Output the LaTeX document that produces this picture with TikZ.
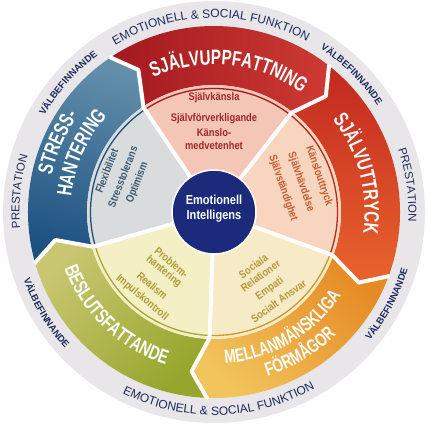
\documentclass[tikz,border=0pt]{standalone}
\usepackage{fontspec}
\usepackage{tikz}
\usetikzlibrary{decorations.text}
\setmainfont{Liberation Sans}
\newfontfamily\bandfont{Liberation Sans}[FakeStretch=0.72]
\newfontfamily\innerfont{Liberation Sans}[FakeStretch=0.85]

\definecolor{ringgrey}{RGB}{232,230,233}
\definecolor{ringblue}{RGB}{31,42,92}
\definecolor{centerblue}{RGB}{27,42,122}
\definecolor{topredA}{RGB}{163,24,32}
\definecolor{topredB}{RGB}{204,58,50}
\definecolor{rightredA}{RGB}{194,40,32}
\definecolor{rightredB}{RGB}{233,100,45}
\definecolor{orangeA}{RGB}{229,138,36}
\definecolor{orangeB}{RGB}{242,196,92}
\definecolor{greenA}{RGB}{150,166,44}
\definecolor{greenB}{RGB}{200,198,112}
\definecolor{blueA}{RGB}{27,80,128}
\definecolor{blueB}{RGB}{98,142,170}
\definecolor{pinkwedge}{RGB}{243,198,182}
\definecolor{peachwedge}{RGB}{247,213,190}
\definecolor{creamwedge}{RGB}{247,235,199}
\definecolor{yellowwedge}{RGB}{245,239,198}
\definecolor{greywedge}{RGB}{217,220,221}
\definecolor{topline}{RGB}{163,28,34}
\definecolor{rightline}{RGB}{185,40,30}
\definecolor{orangeline}{RGB}{205,152,45}
\definecolor{greenline}{RGB}{168,168,56}
\definecolor{blueline}{RGB}{30,80,128}
\definecolor{topinner}{RGB}{160,40,42}
\definecolor{rightinner}{RGB}{196,92,50}
\definecolor{orangeinner}{RGB}{180,154,60}
\definecolor{greeninner}{RGB}{170,158,52}
\definecolor{blueinner}{RGB}{60,90,116}

\newcommand\ringtxt{\fontsize{12}{14}\selectfont}
\newcommand\prestxt{\fontsize{11.5}{13}\selectfont}
\newcommand\welltxt{\bfseries\fontsize{9.5}{11}\selectfont}
\newcommand\bandtxt{\bandfont\bfseries\fontsize{21}{24}\selectfont}
\newcommand\bandmid{\bandfont\bfseries\fontsize{20}{24}\selectfont}
\newcommand\bandsmall{\bandfont\bfseries\fontsize{19}{22}\selectfont}

\tikzset{
  ringtext/.style={decorate, decoration={text along path, text align=center, text color=ringblue}},
  bandtext/.style={decorate, decoration={text along path, text align=center, text color=white}},
  gapline/.style={white, line width=4, line join=round},
  innerline/.style={line width=1.3},
  innertext/.style={inner sep=0, font=\innerfont\bfseries\fontsize{11}{12}\selectfont}
}

\begin{document}
\begin{tikzpicture}[x=1pt, y=1pt]
  \useasboundingbox (-214,-214) rectangle (214,212);

  % outer ring
  \fill[ringgrey] (0,0) circle[radius=211];

  % coloured bands
  \shade[top color=topredB, bottom color=topredA, shading angle=-90] (124:186) arc[start angle=124, end angle=52, radius=186] -- (46:161) -- (52:127) arc[start angle=52, end angle=124, radius=127] -- (118:161) -- cycle;
  \shade[top color=rightredA, bottom color=rightredB] (52:186) arc[start angle=52, end angle=-20, radius=186] -- (-26:161) -- (-20:127) arc[start angle=-20, end angle=52, radius=127] -- (46:161) -- cycle;
  \shade[top color=orangeA, bottom color=orangeB, shading angle=-45] (-20:186) arc[start angle=-20, end angle=-92, radius=186] -- (-98:161) -- (-92:127) arc[start angle=-92, end angle=-20, radius=127] -- (-26:161) -- cycle;
  \shade[top color=greenB, bottom color=greenA, shading angle=45] (-92:186) arc[start angle=-92, end angle=-164, radius=186] -- (-170:161) -- (-164:127) arc[start angle=-164, end angle=-92, radius=127] -- (-98:161) -- cycle;
  \shade[top color=blueB, bottom color=blueA, shading angle=-15] (196:186) arc[start angle=196, end angle=124, radius=186] -- (118:161) -- (124:127) arc[start angle=124, end angle=196, radius=127] -- (190:161) -- cycle;

  % inner wedges
  \fill[pinkwedge] (0,0) -- (124:127) arc[start angle=124, end angle=52, radius=127] -- cycle;
  \fill[peachwedge] (0,0) -- (52:127) arc[start angle=52, end angle=-20, radius=127] -- cycle;
  \fill[creamwedge] (0,0) -- (-20:127) arc[start angle=-20, end angle=-92, radius=127] -- cycle;
  \fill[yellowwedge] (0,0) -- (-92:127) arc[start angle=-92, end angle=-164, radius=127] -- cycle;
  \fill[greywedge] (0,0) -- (196:127) arc[start angle=196, end angle=124, radius=127] -- cycle;

  % thin rims
  \draw[innerline, topline] (124:123.5) arc[start angle=124, end angle=52, radius=123.5];
  \draw[innerline, rightline] (52:123.5) arc[start angle=52, end angle=-20, radius=123.5];
  \draw[innerline, orangeline] (-20:123.5) arc[start angle=-20, end angle=-92, radius=123.5];
  \draw[innerline, greenline] (-92:123.5) arc[start angle=-92, end angle=-164, radius=123.5];
  \draw[innerline, blueline] (196:123.5) arc[start angle=196, end angle=124, radius=123.5];

  % white gaps
  \draw[gapline] (124:187) -- (118:161) -- (124:126) -- (124:40);
  \draw[gapline] (52:187) -- (46:161) -- (52:126) -- (52:40);
  \draw[gapline] (-20:187) -- (-26:161) -- (-20:126) -- (-20:40);
  \draw[gapline] (-92:187) -- (-98:161) -- (-92:126) -- (-92:40);
  \draw[gapline] (-164:187) -- (-170:161) -- (-164:126) -- (-164:40);

  % centre
  \node[circle, fill=centerblue, draw=white, line width=1.5, minimum size=84, inner sep=0] (ei) at (0,0) {};
  \node[align=center, text=white, font=\innerfont\bfseries\fontsize{13}{15}\selectfont] (eitext) at (0,3) {Emotionell\\Intelligens};

  % ring labels
  \path[ringtext, decoration={text={|\ringtxt|EMOTIONELL {\&} SOCIAL FUNKTION}}] (161:194) arc[start angle=161, end angle=21, radius=194];
  \path[ringtext, decoration={text={|\ringtxt|EMOTIONELL {\&} SOCIAL FUNKTION}}] (-158.5:203) arc[start angle=-158.5, end angle=-18.5, radius=203];
  \path[ringtext, decoration={text={|\prestxt|PRESTATION}}] (204:194.5) arc[start angle=204, end angle=144, radius=194.5];
  \path[ringtext, decoration={text={|\prestxt|PRESTATION}}] (38:194.5) arc[start angle=38, end angle=-22, radius=194.5];
  \path[ringtext, decoration={text={|\welltxt|VÄLBEFINNANDE}}] (168.5:195) arc[start angle=168.5, end angle=108.5, radius=195];
  \path[ringtext, decoration={text={|\welltxt|VÄLBEFINNANDE}}] (75:195) arc[start angle=75, end angle=15, radius=195];
  \path[ringtext, decoration={text={|\welltxt|VÄLBEFINNANDE}}] (181:202) arc[start angle=181, end angle=241, radius=202];
  \path[ringtext, decoration={text={|\welltxt|VÄLBEFINNANDE}}] (-58:202) arc[start angle=-58, end angle=2, radius=202];

  % band labels
  \path[bandtext, decoration={text={|\bandtxt|SJÄLVUPPFATTNING}}] (144:147.5) arc[start angle=144, end angle=24, radius=147.5];
  \path[bandtext, decoration={text={|\bandtxt|SJÄLVUTTRYCK}}] (75:150.5) arc[start angle=75, end angle=-45, radius=150.5];
  \path[bandtext, decoration={text={|\bandtxt|STRESS-}}] (216:166.5) arc[start angle=216, end angle=96, radius=166.5];
  \path[bandtext, decoration={text={|\bandtxt|HANTERING}}] (216:143.5) arc[start angle=216, end angle=96, radius=143.5];
  \path[bandtext, decoration={text={|\bandmid|BESLUTSFATTANDE}}] (166.5:160) arc[start angle=166.5, end angle=286.5, radius=160];
  \path[bandtext, decoration={text={|\bandsmall|MELLANMÄNSKLIGA}}] (-119.5:152) arc[start angle=-119.5, end angle=0.5, radius=152];
  \path[bandtext, decoration={text={|\bandsmall|FÖRMÅGOR}}] (-118.5:173) arc[start angle=-118.5, end angle=1.5, radius=173];

  % wedge texts
  \node[innertext, text=topinner] (sjalvkansla) at (90:114) {Självkänsla};
  \node[innertext, text=topinner] (forverkligande) at (90:93) {Självförverkligande};
  \node[innertext, text=topinner] (kanslo) at (90:79) {Känslo-};
  \node[innertext, text=topinner] (medvetenhet) at (90:66) {medvetenhet};

  \node[innertext, text=rightinner, rotate=-71] (uttryck) at (19:111) {Känslouttryck};
  \node[innertext, text=rightinner, rotate=-71] (havdelse) at (19:92) {Självhävdelse};
  \node[innertext, text=rightinner, rotate=-71] (standighet) at (19:73) {Självständighet};

  \node[innertext, text=orangeinner, rotate=36] (sociala) at (-54:67) {Sociala};
  \node[innertext, text=orangeinner, rotate=36] (relationer) at (-54:79) {Relationer};
  \node[innertext, text=orangeinner, rotate=36] (empati) at (-54:95) {Empati};
  \node[innertext, text=orangeinner, rotate=36] (ansvar) at (-54:110) {Socialt Ansvar};

  \node[innertext, text=greeninner, rotate=-40] (problem) at (230:66) {Problem-};
  \node[innertext, text=greeninner, rotate=-40] (hantering) at (230:78) {hantering};
  \node[innertext, text=greeninner, rotate=-40] (realism) at (230:96) {Realism};
  \node[innertext, text=greeninner, rotate=-40] (impuls) at (230:112) {Impulskontroll};

  \node[innertext, text=blueinner, rotate=69] (flex) at (159:115) {Flexibilitet};
  \node[innertext, text=blueinner, rotate=69] (tolerans) at (159:98) {Stresstolerans};
  \node[innertext, text=blueinner, rotate=69] (optimism) at (159:82) {Optimism};
\end{tikzpicture}
\end{document}
